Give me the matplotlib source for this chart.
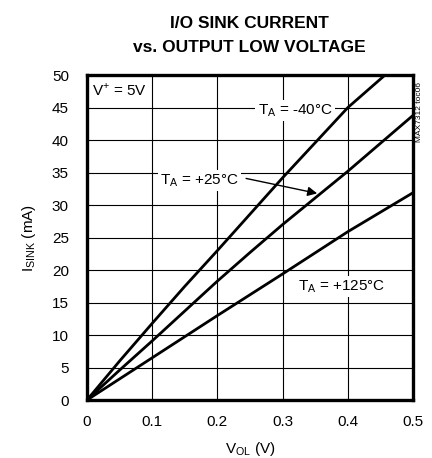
import numpy as np
import matplotlib
matplotlib.use('Agg')
import matplotlib.pyplot as plt

# Fonts: narrow sans to imitate the datasheet look
plt.rcParams['font.family'] = ['Liberation Sans Narrow', 'Liberation Sans', 'DejaVu Sans']
plt.rcParams['mathtext.fontset'] = 'custom'
plt.rcParams['mathtext.rm'] = 'Liberation Sans'

# Data (V_OL in V, I_SINK in mA)
v_m40 = [0.0, 0.05, 0.1, 0.15, 0.2, 0.25, 0.3, 0.35, 0.4, 0.457]
i_m40 = [0.0, 6.0, 11.8, 17.5, 23.0, 28.6, 34.2, 39.6, 45.0, 50.0]

v_p25 = [0.0, 0.05, 0.1, 0.15, 0.2, 0.25, 0.3, 0.35, 0.4, 0.45, 0.5]
i_p25 = [0.0, 4.6, 9.1, 13.7, 18.3, 22.7, 27.0, 31.1, 35.2, 39.5, 43.8]

v_p125 = [0.0, 0.1, 0.2, 0.3, 0.4, 0.5]
i_p125 = [0.0, 6.5, 13.0, 19.4, 25.9, 31.9]

xticks = [0, 0.1, 0.2, 0.3, 0.4, 0.5]
xticklabels = ['0', '0.1', '0.2', '0.3', '0.4', '0.5']
yticks = list(range(0, 55, 5))

fig = plt.figure(figsize=(4.32, 4.58), dpi=100)
ax = fig.add_axes([0.2014, 0.1266, 0.7546, 0.7094])

ax.plot(v_m40, i_m40, color='black', lw=2.0, zorder=3)
ax.plot(v_p25, i_p25, color='black', lw=2.0, zorder=3)
ax.plot(v_p125, i_p125, color='black', lw=2.0, zorder=3)

ax.set_xlim(0, 0.5)
ax.set_ylim(0, 50)
ax.set_xticks(xticks)
ax.set_xticklabels(xticklabels)
ax.set_yticks(yticks)
ax.tick_params(length=0, labelsize=11)
ax.tick_params(axis='x', pad=11)
ax.tick_params(axis='y', pad=13)
ax.grid(True, color='black', lw=0.8)
ax.set_axisbelow(True)
for s in ax.spines.values():
    s.set_linewidth(2.4)

ax.set_xlabel(r'V$_{\mathrm{OL}}$ (V)', fontsize=11, labelpad=8)
ax.set_ylabel(r'I$_{\mathrm{SINK}}$ (mA)', fontsize=11, labelpad=10)

fig.text(0.578, 0.949, 'I/O SINK CURRENT', ha='center', va='center',
         fontsize=12.5, fontweight='bold')
fig.text(0.578, 0.896, 'vs. OUTPUT LOW VOLTAGE', ha='center', va='center',
         fontsize=12.5, fontweight='bold')

box = dict(facecolor='white', edgecolor='none', pad=1.5)
ax.text(0.008, 49.0, r'V$^{+}$ = 5V', ha='left', va='top', fontsize=11, zorder=2)
ax.text(0.319, 44.5, r'T$_{\mathrm{A}}$ = -40°C', ha='center', va='center',
        fontsize=11, bbox=box, zorder=2)
ax.text(0.173, 33.8, r'T$_{\mathrm{A}}$ = +25°C', ha='center', va='center',
        fontsize=11, bbox=box, zorder=2)
ax.text(0.391, 17.4, r'T$_{\mathrm{A}}$ = +125°C', ha='center', va='center',
        fontsize=11, bbox=box, zorder=2)
ax.annotate('', xy=(0.353, 31.8), xytext=(0.244, 34.1),
            arrowprops=dict(arrowstyle='-|>', color='black', lw=1.0,
                            mutation_scale=14, shrinkA=0, shrinkB=0),
            zorder=4)

fig.text(0.972, 0.755, 'MAX7312 toc06', rotation=90, ha='center', va='center',
         fontsize=6)

fig.savefig('out.png', dpi=100)
